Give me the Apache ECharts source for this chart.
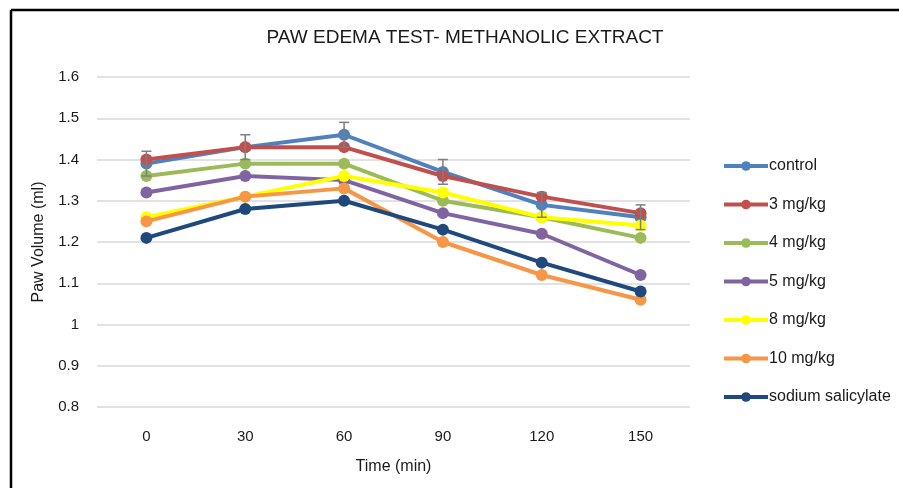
<!DOCTYPE html>
<html>
<head>
<meta charset="utf-8">
<script src="https://cdn.jsdelivr.net/npm/echarts@6/dist/echarts.min.js"></script>
<style>
html,body{margin:0;padding:0;background:#fff;}
#chart{width:899px;height:488px;}
</style>
</head>
<body>
<div id="chart"></div>
<script>
var categories = ['0', '30', '60', '90', '120', '150'];
var seriesNames = ['control', '3 mg/kg', '4 mg/kg', '5 mg/kg', '8 mg/kg', '10 mg/kg', 'sodium salicylate'];
var control = [1.39, 1.43, 1.46, 1.37, 1.29, 1.26];
var mg3 = [1.40, 1.43, 1.43, 1.36, 1.31, 1.27];
var mg4 = [1.36, 1.39, 1.39, 1.30, 1.26, 1.21];
var mg5 = [1.32, 1.36, 1.35, 1.27, 1.22, 1.12];
var mg8 = [1.26, 1.31, 1.36, 1.32, 1.26, 1.24];
var mg10 = [1.25, 1.31, 1.33, 1.20, 1.12, 1.06];
var sodiumSalicylate = [1.21, 1.28, 1.30, 1.23, 1.15, 1.08];
var controlError = [0.03, 0.03, 0.03, 0.03, 0.03, 0.03];
var yTicks = [0.8, 0.9, 1, 1.1, 1.2, 1.3, 1.4, 1.5, 1.6];

var allData = [control, mg3, mg4, mg5, mg8, mg10, sodiumSalicylate];
var colors = ['#4F81BD', '#C0504D', '#9BBB59', '#8064A2', '#FFFF00', '#F79646', '#1F497D'];
var font = '"Liberation Sans", Arial, sans-serif';
var textColor = '#1a1a1a';

var chart = echarts.init(document.getElementById('chart'), null, {renderer: 'canvas'});

var series = seriesNames.map(function (name, i) {
  return {
    name: name,
    type: 'line',
    data: allData[i],
    symbol: 'circle',
    symbolSize: 12,
    itemStyle: {color: colors[i]},
    lineStyle: {width: 4, color: colors[i]},
    z: 3 + i
  };
});

var errData = categories.map(function (c, i) {
  return [i, control[i] - controlError[i], control[i] + controlError[i]];
});

series.unshift({
  type: 'custom',
  name: 'error',
  data: errData,
  z: 20,
  renderItem: function (params, api) {
    var x = api.value(0);
    var lo = api.coord([x, api.value(1)]);
    var hi = api.coord([x, api.value(2)]);
    var hw = 5;
    var st = {stroke: '#7F7F7F', lineWidth: 1.5};
    return {
      type: 'group',
      children: [
        {type: 'line', shape: {x1: lo[0], y1: lo[1], x2: hi[0], y2: hi[1]}, style: st},
        {type: 'line', shape: {x1: hi[0] - hw, y1: hi[1], x2: hi[0] + hw, y2: hi[1]}, style: st},
        {type: 'line', shape: {x1: lo[0] - hw, y1: lo[1], x2: lo[0] + hw, y2: lo[1]}, style: st}
      ]
    };
  }
});

chart.setOption({
  backgroundColor: '#fff',
  animation: false,
  title: {
    text: 'PAW EDEMA TEST- METHANOLIC EXTRACT',
    left: 460, top: 23, textAlign: 'center',
    textStyle: {fontFamily: font, fontSize: 19, fontWeight: 'normal', color: textColor}
  },
  legend: {
    orient: 'vertical',
    left: 717, top: 153,
    itemGap: 22.5,
    itemWidth: 44, itemHeight: 12,
    data: seriesNames,
    lineStyle: {width: 4},
    textStyle: {fontFamily: font, fontSize: 16, color: textColor, padding: [0, 0, 0, -4]}
  },
  grid: {left: 97, right: 209, top: 77, bottom: 81},
  xAxis: {
    type: 'category',
    data: categories,
    boundaryGap: true,
    name: 'Time (min)',
    nameLocation: 'middle',
    nameGap: 52,
    nameTextStyle: {fontFamily: font, fontSize: 16, color: textColor},
    axisLine: {show: false},
    axisTick: {show: false},
    axisLabel: {fontFamily: font, fontSize: 15, color: textColor, margin: 22}
  },
  yAxis: {
    type: 'value',
    min: 0.8, max: 1.6, interval: 0.1,
    name: 'Paw Volume (ml)',
    nameLocation: 'middle',
    nameGap: 50,
    nameTextStyle: {fontFamily: font, fontSize: 16, color: textColor},
    axisLine: {show: false},
    axisTick: {show: false},
    splitLine: {lineStyle: {color: '#D9D9D9', width: 1.5}},
    axisLabel: {
      fontFamily: font, fontSize: 15, color: textColor, margin: 18,
      formatter: function (v) {
        var r = Math.round(v * 10) / 10;
        return yTicks.indexOf(r) >= 0 ? String(r) : '';
      }
    }
  },
  graphic: [
    {type: 'line', shape: {x1: 11, y1: 10, x2: 899, y2: 10}, style: {stroke: '#000', lineWidth: 2.5}},
    {type: 'line', shape: {x1: 11, y1: 10, x2: 11, y2: 488}, style: {stroke: '#000', lineWidth: 2.5}}
  ],
  series: series
});
</script>
</body>
</html>
